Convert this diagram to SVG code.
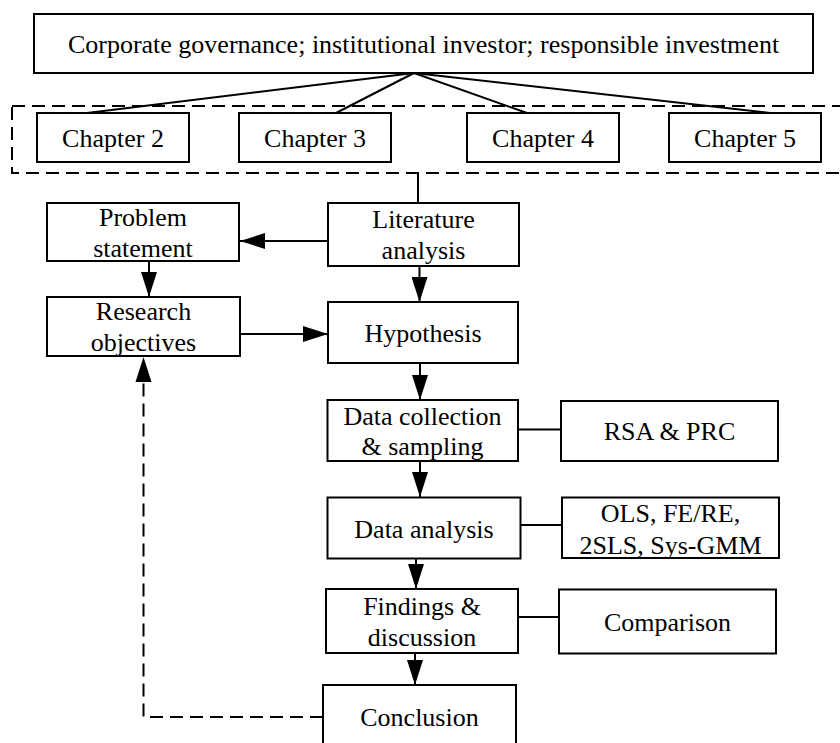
<svg xmlns="http://www.w3.org/2000/svg" width="840" height="743" viewBox="0 0 840 743">
  <style>
    .box { fill: #ffffff; stroke: #000000; stroke-width: 2; }
    .lbl { font-family: "Liberation Serif", "Times New Roman", serif; font-size: 26px; fill: #000000; text-anchor: middle; }
    .ln { fill: none; stroke: #000000; stroke-width: 2; }
    .arr { fill: none; stroke: #000000; stroke-width: 2; marker-end: url(#head); }
    .dash { fill: none; stroke: #000000; stroke-width: 2; stroke-dasharray: 13 7; }
  </style>
  <defs>
    <marker id="head" markerUnits="userSpaceOnUse" markerWidth="25" markerHeight="16" refX="25" refY="8" orient="auto">
      <path d="M0,0 L25,8 L0,16 Z" fill="#000000" stroke="none"/>
    </marker>
  </defs>
  <rect width="840" height="743" fill="#ffffff"/>

  <!-- dashed frame around the chapter boxes -->
  <rect id="chapter-frame" x="12" y="106" width="850" height="67" class="dash"/>

  <!-- connectors -->
  <g id="connectors">
    <line class="ln" x1="414" y1="73" x2="87" y2="113"/>
    <line class="ln" x1="414" y1="73" x2="336" y2="113"/>
    <line class="ln" x1="414" y1="73" x2="527" y2="113"/>
    <line class="ln" x1="414" y1="73" x2="770" y2="113"/>
    <line class="ln" x1="418" y1="173" x2="418" y2="203"/>
    <line class="arr" x1="328" y1="241" x2="240" y2="241"/>
    <line class="arr" x1="149" y1="261" x2="149" y2="297"/>
    <line class="arr" x1="240" y1="334" x2="328" y2="334"/>
    <line class="arr" x1="419.5" y1="266" x2="419.5" y2="302"/>
    <line class="arr" x1="420" y1="363" x2="420" y2="400"/>
    <line class="arr" x1="420" y1="461" x2="420" y2="497"/>
    <line class="arr" x1="416" y1="558" x2="416" y2="589"/>
    <line class="arr" x1="415" y1="653" x2="415" y2="685"/>
    <line class="ln" x1="518" y1="429.5" x2="561" y2="429.5"/>
    <line class="ln" x1="520" y1="525" x2="562" y2="525"/>
    <line class="ln" x1="518" y1="617" x2="559" y2="617"/>
    <!-- feedback loop: conclusion back to research objectives -->
    <path class="dash" d="M323,717 H143.5 V382"/>
    <path d="M135.5,382 L143.5,357 L151.5,382 Z" fill="#000000"/>
  </g>

  <g id="topic">
    <rect class="box" x="34" y="14" width="779" height="59"/>
    <text class="lbl" x="423.5" y="52.5">Corporate governance; institutional investor; responsible investment</text>
  </g>

  <g id="chapter2">
    <rect class="box" x="37" y="113" width="152" height="49"/>
    <text class="lbl" x="113" y="146.5">Chapter 2</text>
  </g>
  <g id="chapter3">
    <rect class="box" x="239" y="113" width="152" height="49"/>
    <text class="lbl" x="315" y="146.5">Chapter 3</text>
  </g>
  <g id="chapter4">
    <rect class="box" x="467" y="113" width="152" height="49"/>
    <text class="lbl" x="543" y="146.5">Chapter 4</text>
  </g>
  <g id="chapter5">
    <rect class="box" x="669" y="113" width="152" height="49"/>
    <text class="lbl" x="745" y="146.5">Chapter 5</text>
  </g>

  <g id="problem-statement">
    <rect class="box" x="47" y="203" width="192" height="58"/>
    <text class="lbl" x="143" y="225.5">Problem</text>
    <text class="lbl" x="143" y="257">statement</text>
  </g>
  <g id="literature-analysis">
    <rect class="box" x="328" y="203" width="191" height="63"/>
    <text class="lbl" x="423.5" y="227.5">Literature</text>
    <text class="lbl" x="423.5" y="259">analysis</text>
  </g>
  <g id="research-objectives">
    <rect class="box" x="47" y="297" width="193" height="59"/>
    <text class="lbl" x="143.5" y="319.5">Research</text>
    <text class="lbl" x="143.5" y="351">objectives</text>
  </g>
  <g id="hypothesis">
    <rect class="box" x="328" y="302" width="190" height="61"/>
    <text class="lbl" x="423" y="341.5">Hypothesis</text>
  </g>
  <g id="data-collection">
    <rect class="box" x="327.5" y="400" width="190.5" height="61"/>
    <text class="lbl" x="422.5" y="425">Data collection</text>
    <text class="lbl" x="422.5" y="455">&amp; sampling</text>
  </g>
  <g id="rsa-prc">
    <rect class="box" x="561" y="401" width="217" height="60"/>
    <text class="lbl" x="669.5" y="440">RSA &amp; PRC</text>
  </g>
  <g id="data-analysis">
    <rect class="box" x="327.5" y="497.5" width="193" height="61"/>
    <text class="lbl" x="424" y="538">Data analysis</text>
  </g>
  <g id="methods">
    <rect class="box" x="562" y="497.5" width="217" height="60.5"/>
    <text class="lbl" x="670.5" y="521.5">OLS, FE/RE,</text>
    <text class="lbl" x="670.5" y="554">2SLS, Sys-GMM</text>
  </g>
  <g id="findings">
    <rect class="box" x="326" y="589" width="192" height="64"/>
    <text class="lbl" x="422" y="615">Findings &amp;</text>
    <text class="lbl" x="422" y="645.5">discussion</text>
  </g>
  <g id="comparison">
    <rect class="box" x="559" y="589.5" width="217" height="64"/>
    <text class="lbl" x="667.5" y="631">Comparison</text>
  </g>
  <g id="conclusion">
    <rect class="box" x="323" y="685" width="193" height="75"/>
    <text class="lbl" x="419.5" y="726">Conclusion</text>
  </g>
</svg>
